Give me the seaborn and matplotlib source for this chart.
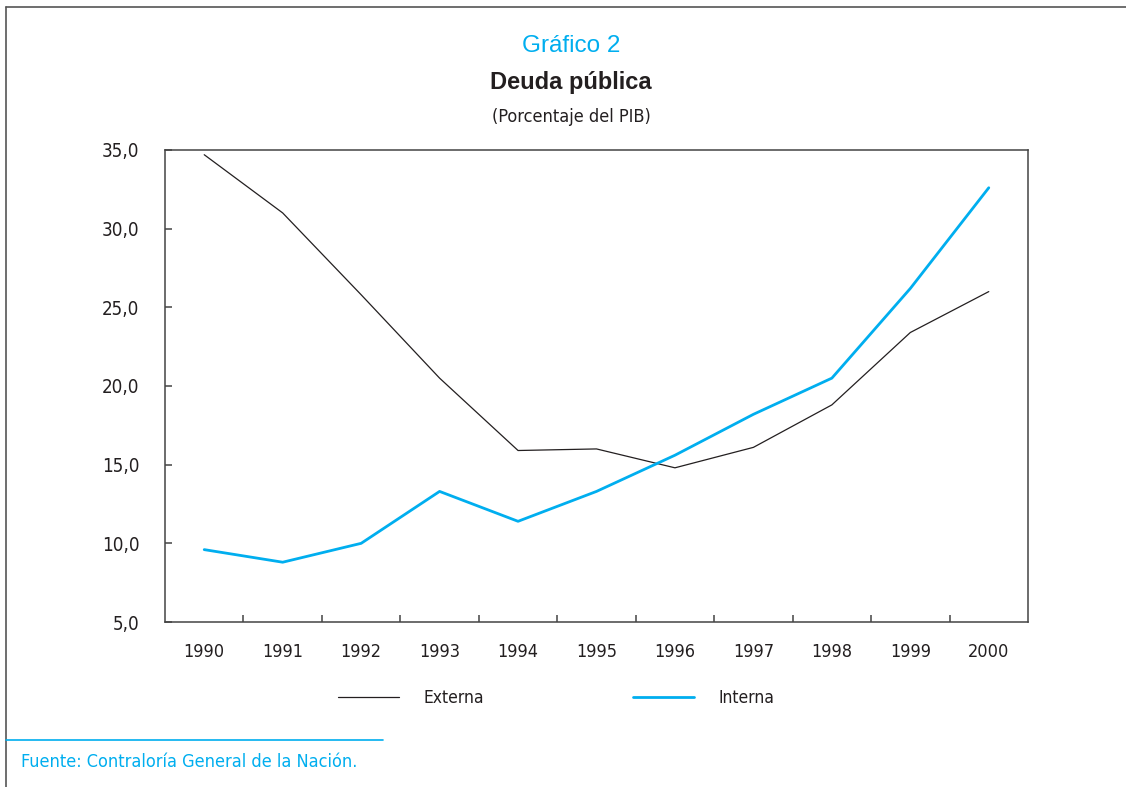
import numpy as np
import pandas as pd
import matplotlib.pyplot as plt
import seaborn as sns
from matplotlib.lines import Line2D
from matplotlib.ticker import FixedLocator

# datos
years = [1990, 1991, 1992, 1993, 1994, 1995, 1996, 1997, 1998, 1999, 2000]
externa = [34.7, 31.0, 25.8, 20.5, 15.9, 16.0, 14.8, 16.1, 18.8, 23.4, 26.0]
interna = [9.6, 8.8, 10.0, 13.3, 11.4, 13.3, 15.6, 18.2, 20.5, 26.2, 32.6]
y_ticks = [5, 10, 15, 20, 25, 30, 35]

cyan = '#00aeef'
dark = '#231f20'
regular = ['Liberation Sans', 'DejaVu Sans']

sns.set_style('white')
plt.rcParams['font.family'] = ['DejaVu Sans']
plt.rcParams['font.stretch'] = 'condensed'

df = pd.DataFrame({'year': years, 'Externa': externa, 'Interna': interna})

fig = plt.figure(figsize=(11.26, 7.87), dpi=100)
ax = fig.add_axes([165 / 1126, 1 - 622 / 787, (1028 - 165) / 1126, (622 - 150) / 787])

sns.lineplot(data=df, x='year', y='Externa', color=dark, linewidth=0.9, label='Externa', ax=ax)
sns.lineplot(data=df, x='year', y='Interna', color=cyan, linewidth=2.0, label='Interna', ax=ax)

ax.set_xlim(years[0] - 0.5, years[-1] + 0.5)
ax.set_ylim(y_ticks[0], y_ticks[-1])
ax.set_xlabel('')
ax.set_ylabel('')

ax.set_xticks(years)
ax.set_xticklabels([str(y) for y in years])
ax.xaxis.set_minor_locator(FixedLocator([y + 0.5 for y in years[:-1]]))
ax.tick_params(axis='x', which='major', length=0, pad=15, labelsize=13, labelcolor=dark)
ax.tick_params(axis='x', which='minor', direction='in', length=5, width=1.1, color='#444444', bottom=True)

ax.set_yticks(y_ticks)
ax.set_yticklabels([f'{v:.1f}'.replace('.', ',') for v in y_ticks])
ax.tick_params(axis='y', which='major', direction='in', length=5, width=1.1, color='#444444',
               pad=18.5, labelsize=13.5, labelcolor=dark, left=True)

for sp in ax.spines.values():
    sp.set_visible(True)
    sp.set_color('#444444')
    sp.set_linewidth(1.1)

handles, labels = ax.get_legend_handles_labels()
ax.get_legend().remove()
fig.legend(handles, labels, loc='center', bbox_to_anchor=(556 / 1126, 1 - 698 / 787), ncol=2,
           frameon=False, fontsize=12.5, handlelength=3.5, handletextpad=1.4, columnspacing=8.6,
           labelcolor=dark)

# titulos
fig.text(571 / 1126, 1 - 46 / 787, 'Gráfico 2', ha='center', va='center', color=cyan,
         fontsize=17.5, family=regular, fontstretch='normal')
fig.text(571 / 1126, 1 - 82 / 787, 'Deuda pública', ha='center', va='center', color=dark,
         fontsize=17, fontweight='bold', family=regular, fontstretch='normal')
fig.text(571 / 1126, 1 - 117 / 787, '(Porcentaje del PIB)', ha='center', va='center', color=dark,
         fontsize=13)

# marco exterior y fuente
fig.add_artist(Line2D([6 / 1126, 1], [1 - 7 / 787, 1 - 7 / 787], transform=fig.transFigure,
                      color='#555555', linewidth=1.2))
fig.add_artist(Line2D([6 / 1126, 6 / 1126], [0, 1 - 7 / 787], transform=fig.transFigure,
                      color='#555555', linewidth=1.2))
fig.add_artist(Line2D([6 / 1126, 383 / 1126], [1 - 740 / 787, 1 - 740 / 787], transform=fig.transFigure,
                      color=cyan, linewidth=1.2))
fig.text(21 / 1126, 1 - 762 / 787, 'Fuente: Contraloría General de la Nación.', ha='left', va='center',
         color=cyan, fontsize=13)

fig.savefig('out.png', dpi=100)
